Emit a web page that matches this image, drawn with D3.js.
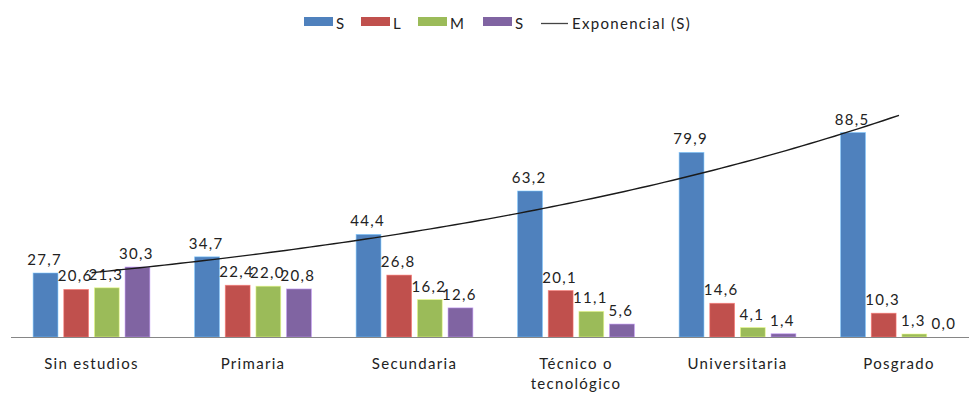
<!DOCTYPE html>
<html>
<head>
<meta charset="utf-8">
<script src="https://cdn.jsdelivr.net/npm/d3@7"></script>
<style>
  html, body { margin: 0; padding: 0; background: #fff; }
  svg { display: block; }
  text { font-family: Lato, "Open Sans", sans-serif; fill: #222; letter-spacing: 1.3px; }
</style>
</head>
<body>
<svg id="chart" width="969" height="394"></svg>
<script>
// Education level categories
const categories = ["Sin estudios", "Primaria", "Secundaria", "Técnico o tecnológico", "Universitaria", "Posgrado"];
// Series names and colours
const seriesNames = ["S", "L", "M", "S"];
const seriesColors = ["#4F81BD", "#C0504D", "#9BBB59", "#8064A2"];
// Values per series (percent)
const seriesS1 = [27.7, 34.7, 44.4, 63.2, 79.9, 88.5];
const seriesL  = [20.6, 22.4, 26.8, 20.1, 14.6, 10.3];
const seriesM  = [21.3, 22.0, 16.2, 11.1, 4.1, 1.3];
const seriesS2 = [30.3, 20.8, 12.6, 5.6, 1.4, 0.0];
const trendName = "Exponencial (S)";

const series = [seriesS1, seriesL, seriesM, seriesS2];
const fmt = v => v.toFixed(1).replace(".", ",");

const svg = d3.select("#chart");
const W = 969, H = 394;
const baseY = 337;

const x = d3.scaleBand().domain(categories).range([10.75, 979.75]).paddingInner(0).paddingOuter(0);
const xs = d3.scaleBand().domain(d3.range(series.length)).range([-64.2, 64.2]).padding(0.19);
const y = d3.scaleLinear().domain([0, 100]).range([baseY, 106]);

const cx = c => x(c) + x.bandwidth() / 2;

// Bars
const groups = svg.append("g").selectAll("g")
  .data(categories).join("g")
  .attr("transform", c => `translate(${cx(c)},0)`);

series.forEach((vals, si) => {
  groups.append("rect")
    .attr("x", xs(si))
    .attr("width", xs.bandwidth())
    .attr("y", (c, i) => y(vals[i]))
    .attr("height", (c, i) => baseY - y(vals[i]))
    .attr("fill", seriesColors[si])
    .attr("stroke", d3.color(seriesColors[si]).brighter(1.2))
    .attr("stroke-width", 0.8)
    .attr("stroke-opacity", 0.7);
});

// Axis baseline
svg.append("line")
  .attr("x1", 11).attr("x2", W)
  .attr("y1", baseY + 0.5).attr("y2", baseY + 0.5)
  .attr("stroke", "#868686").attr("stroke-width", 1);

// Exponential trendline fitted to the first S series
const xi = d3.range(1, seriesS1.length + 1);
const lnv = seriesS1.map(v => Math.log(v));
const mx = d3.mean(xi), my = d3.mean(lnv);
const b = d3.sum(xi, (v, i) => (v - mx) * (lnv[i] - my)) / d3.sum(xi, v => (v - mx) * (v - mx));
const a = Math.exp(my - b * mx);
const xPos = d3.scaleLinear().domain([1, categories.length]).range([cx(categories[0]), cx(categories[categories.length - 1])]);
const trendPts = d3.range(1, categories.length + 0.0001, 0.05).map(t => [xPos(t), y(a * Math.exp(b * t))]);
svg.append("path")
  .attr("d", d3.line()(trendPts))
  .attr("fill", "none")
  .attr("stroke", "#1a1a1a")
  .attr("stroke-width", 1.4);

// Value labels
series.forEach((vals, si) => {
  groups.append("text")
    .attr("x", xs(si) + xs.bandwidth() / 2 - 1)
    .attr("y", (c, i) => y(vals[i]) - 8)
    .attr("text-anchor", "middle")
    .attr("font-size", 15)
    .text((c, i) => fmt(vals[i]));
});

// Category labels (wrapped at "o")
const catText = svg.append("g").selectAll("text")
  .data(categories).join("text")
  .attr("x", c => cx(c))
  .attr("y", 369)
  .attr("text-anchor", "middle")
  .attr("font-size", 15);
catText.each(function(c) {
  const lines = c === "Técnico o tecnológico" ? ["Técnico o", "tecnológico"] : [c];
  d3.select(this).selectAll("tspan").data(lines).join("tspan")
    .attr("x", cx(c))
    .attr("dy", (d, i) => i === 0 ? 0 : 20)
    .text(d => d);
});

// Legend
const legend = svg.append("g");
const legItems = [
  { x: 304, label: seriesNames[0], color: seriesColors[0] },
  { x: 361, label: seriesNames[1], color: seriesColors[1] },
  { x: 418, label: seriesNames[2], color: seriesColors[2] },
  { x: 483, label: seriesNames[3], color: seriesColors[3] }
];
legItems.forEach(it => {
  legend.append("rect").attr("x", it.x).attr("y", 17).attr("width", 29).attr("height", 9).attr("fill", it.color);
  legend.append("text").attr("x", it.x + 32).attr("y", 29).attr("font-size", 15).text(it.label);
});
legend.append("line").attr("x1", 541).attr("x2", 568).attr("y1", 23.5).attr("y2", 23.5)
  .attr("stroke", "#444").attr("stroke-width", 1.3);
legend.append("text").attr("x", 572).attr("y", 29).attr("font-size", 15).text(trendName);
</script>
</body>
</html>
